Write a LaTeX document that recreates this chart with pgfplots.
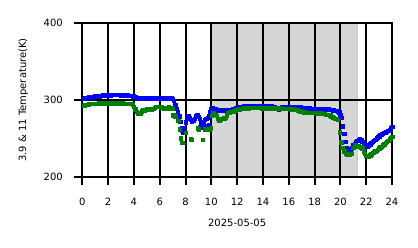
\documentclass[border=0pt]{standalone}
\usepackage{pgfplots}
\pgfplotsset{compat=1.18}
\usepackage{fontspec}
\setmainfont{DejaVu Sans}
\definecolor{myblue}{RGB}{0,0,255}
\definecolor{mygreen}{RGB}{0,128,0}
\pgfplotstableread[row sep=\\]{
x y\\
0.1 302\\ 0.2 302.5\\ 0.3 303\\ 0.4 302.8\\ 0.5 303.5\\ 0.6 303.8\\ 0.7 304\\ 0.8 304.2\\ 0.9 304.5\\ 1.0 304.8\\
1.1 305\\ 1.2 305.2\\ 1.3 305\\ 1.4 305.6\\ 1.5 305.8\\ 1.6 306\\ 1.7 305.7\\ 1.8 306.2\\ 1.9 306.4\\ 2.0 306.5\\
2.1 306.8\\ 2.2 306.4\\ 2.3 307\\ 2.4 307.2\\ 2.5 306.8\\ 2.6 307\\ 2.7 306.6\\ 2.8 307.2\\ 2.9 306.8\\ 3.0 306.5\\
3.1 306.9\\ 3.2 306.3\\ 3.3 306.6\\ 3.4 306\\ 3.5 306.4\\ 3.6 305.8\\ 3.7 305.5\\ 3.8 305.8\\ 3.9 305.2\\ 4.0 304.8\\
4.1 304\\ 4.2 303\\ 4.3 302.2\\ 4.4 301.5\\ 4.5 301.8\\ 4.6 302.5\\ 4.7 302\\ 4.8 302.6\\ 4.9 303\\ 5.0 302.5\\
5.1 303.2\\ 5.2 302.8\\ 5.3 303\\ 5.4 302.6\\ 5.5 303.2\\ 5.6 302.9\\ 5.7 302.5\\ 5.8 303\\ 5.9 302.4\\ 6.0 302.8\\
6.1 302.2\\ 6.2 302.6\\ 6.3 302\\ 6.4 302.5\\ 6.5 302.2\\ 6.6 302.8\\ 6.7 302.4\\ 6.8 301.8\\ 6.9 302.2\\ 7.0 301.5\\
7.1 299\\ 7.2 294\\ 7.3 289\\ 7.4 284\\ 7.5 279\\ 7.6 272\\ 7.7 264\\ 7.75 260\\ 7.8 257\\ 7.9 263\\ 8.0 271\\
8.1 276\\ 8.2 279\\ 8.3 277\\ 8.4 274\\ 8.5 272\\ 8.6 273\\ 8.7 276\\ 8.8 279\\ 8.9 280\\ 9.0 278\\
9.1 276\\ 9.2 271\\ 9.3 268\\ 9.4 270\\ 9.5 274\\ 9.6 276\\ 9.7 277\\ 9.8 279\\ 9.9 284\\ 10.0 288\\
9.1 265\\ 9.2 264\\ 9.3 264\\ 9.45 264.5\\ 9.55 265\\ 9.7 266\\ 9.8 268\\
10.1 289.5\\ 10.2 289\\ 10.3 288\\ 10.4 287\\ 10.5 286\\ 10.6 286.5\\ 10.7 287\\ 10.8 286\\ 10.9 286.5\\ 11.0 287\\
11.1 286.5\\ 11.2 287\\ 11.3 286.4\\ 11.4 287\\ 11.5 287.2\\ 11.6 287.6\\ 11.7 288\\ 11.8 289\\ 11.9 289.5\\ 12.0 290\\
12.1 290.5\\ 12.2 291\\ 12.3 291.2\\ 12.4 291.5\\ 12.5 291.8\\ 12.6 292\\ 12.7 291.6\\ 12.8 292.2\\ 12.9 292\\ 13.0 292.4\\
13.1 292\\ 13.2 292.5\\ 13.3 292.2\\ 13.4 292.6\\ 13.5 292\\ 13.6 292.3\\ 13.7 292.6\\ 13.8 292.2\\ 13.9 292.5\\ 14.0 292.2\\
14.1 291.8\\ 14.2 292.2\\ 14.3 292\\ 14.4 291.6\\ 14.5 292\\ 14.6 291.5\\ 14.7 291.8\\ 14.8 291.2\\ 14.9 290.5\\ 15.0 289.5\\
15.1 288.5\\ 15.2 287.5\\ 15.3 288.5\\ 15.4 290\\ 15.5 291\\ 15.6 291.2\\ 15.7 291.5\\ 15.8 291\\ 15.9 291.4\\ 16.0 291.2\\
16.1 291.5\\ 16.2 291\\ 16.3 291.4\\ 16.4 291.2\\ 16.5 291\\ 16.6 291.3\\ 16.7 290.8\\ 16.8 291\\ 16.9 290.5\\ 17.0 290.2\\
17.1 290\\ 17.2 289.5\\ 17.3 289.8\\ 17.4 289.2\\ 17.5 289\\ 17.6 289.4\\ 17.7 289\\ 17.8 288.6\\ 17.9 289\\ 18.0 288.4\\
18.1 288.8\\ 18.2 288.2\\ 18.3 288.6\\ 18.4 288\\ 18.5 288.4\\ 18.6 287.8\\ 18.7 288.2\\ 18.8 287.6\\ 18.9 288\\ 19.0 287.4\\
19.1 287.8\\ 19.2 287.2\\ 19.3 287\\ 19.4 286.6\\ 19.5 286.8\\ 19.6 286.2\\ 19.7 286\\ 19.8 285.5\\ 19.9 284\\ 20.0 281\\
20.1 277\\ 20.2 266\\ 20.3 256\\ 20.4 246\\ 20.5 238\\ 20.6 236\\ 20.7 235.5\\ 20.8 236\\ 20.9 237\\ 21.0 241\\
21.1 243\\ 21.2 245\\ 21.3 247\\ 21.4 248.5\\ 21.5 249\\ 21.6 247.5\\ 21.7 246\\ 21.8 244\\ 21.9 242.5\\ 22.0 241\\
22.1 240\\ 22.2 241\\ 22.3 242.5\\ 22.4 244\\ 22.5 245.5\\ 22.6 247\\ 22.7 248.5\\ 22.8 250\\ 22.9 251.5\\ 23.0 253\\
23.1 254.5\\ 23.2 255.5\\ 23.3 256\\ 23.4 257\\ 23.5 258\\ 23.6 258.8\\ 23.7 260\\ 23.8 261.5\\ 23.9 263\\ 24.0 265\\
}\bluedata
\pgfplotstableread[row sep=\\]{
x y\\
0.1 292.3\\ 0.2 293\\ 0.3 293.5\\ 0.4 294\\ 0.5 294.5\\ 0.6 294.8\\ 0.7 295\\ 0.8 295.2\\ 0.9 295.2\\ 1.0 295.4\\
1.1 295.5\\ 1.2 295.4\\ 1.3 295.6\\ 1.4 295.5\\ 1.5 295.6\\ 1.6 295.5\\ 1.7 295.6\\ 1.8 295.5\\ 1.9 295.6\\ 2.0 295.5\\
2.1 295.6\\ 2.2 295.5\\ 2.3 295.6\\ 2.4 295.5\\ 2.5 295.6\\ 2.6 295.5\\ 2.7 295.6\\ 2.8 295.5\\ 2.9 295.6\\ 3.0 295.5\\
3.1 295.6\\ 3.2 295.5\\ 3.3 295.5\\ 3.4 295.4\\ 3.5 295.5\\ 3.6 295.3\\ 3.7 295.2\\ 3.8 295\\ 3.9 294\\ 4.0 291\\
4.1 288\\ 4.2 285\\ 4.3 283\\ 4.4 282\\ 4.5 283\\ 4.6 285.5\\ 4.7 286.5\\ 4.8 286\\ 4.9 287\\ 5.0 288\\
5.1 289\\ 5.2 288\\ 5.3 287.5\\ 5.4 287\\ 5.5 288.5\\ 5.6 290\\ 5.7 291\\ 5.8 291.2\\ 5.9 291\\ 6.0 291.2\\
6.1 290.5\\ 6.2 290.2\\ 6.3 289.5\\ 6.4 289\\ 6.5 288.5\\ 6.6 289.5\\ 6.7 290.5\\ 6.8 290\\ 6.9 289.5\\ 7.0 289\\
7.05 280\\ 7.2 279\\ 7.43 273\\ 7.56 262\\ 7.64 250\\ 7.74 244.6\\ 8.03 257.7\\ 8.4 249\\ 8.5 248\\
8.93 263\\ 9.02 262\\ 9.32 248\\ 9.5 262\\ 9.83 262\\ 9.93 263\\ 10.05 279.5\\
10.1 283.7\\ 10.2 283\\ 10.3 281\\ 10.4 279.5\\ 10.5 276\\ 10.6 273.7\\ 10.7 274\\ 10.8 275.5\\ 10.9 276\\ 11.0 276.5\\
11.1 277\\ 11.2 280\\ 11.3 283.7\\ 11.4 284\\ 11.5 284.5\\ 11.6 285\\ 11.7 285.6\\ 11.8 286\\ 11.9 286.7\\ 12.0 287.2\\
12.1 287.8\\ 12.2 288\\ 12.3 288.5\\ 12.4 289\\ 12.5 289.2\\ 12.6 289.5\\ 12.7 289.5\\ 12.8 289.6\\ 12.9 289.5\\ 13.0 289.8\\
13.1 289.6\\ 13.2 289.8\\ 13.3 289.6\\ 13.4 289.8\\ 13.5 289.6\\ 13.6 289.8\\ 13.7 289.6\\ 13.8 289.7\\ 13.9 289.5\\ 14.0 289.7\\
14.1 289.5\\ 14.2 289.6\\ 14.3 289.4\\ 14.4 289.6\\ 14.5 289.4\\ 14.6 289.5\\ 14.7 289.3\\ 14.8 289.5\\ 14.9 289.3\\ 15.0 289.4\\
15.1 289.2\\ 15.2 289\\ 15.3 289.2\\ 15.4 289\\ 15.5 288.8\\ 15.6 288.6\\ 15.7 288.8\\ 15.8 288.5\\ 15.9 288.6\\ 16.0 288.4\\
16.1 288.5\\ 16.2 288.2\\ 16.3 288\\ 16.4 287.8\\ 16.5 287.5\\ 16.6 287\\ 16.7 286.5\\ 16.8 286\\ 16.9 285.5\\ 17.0 285\\
17.1 284.5\\ 17.2 284\\ 17.3 283.8\\ 17.4 283.7\\ 17.5 283.7\\ 17.6 283.6\\ 17.7 283.7\\ 17.8 283.5\\ 17.9 283.6\\ 18.0 283.5\\
18.1 283.2\\ 18.2 283\\ 18.3 282.8\\ 18.4 282.9\\ 18.5 282.8\\ 18.6 282.5\\ 18.7 282.2\\ 18.8 281.8\\ 18.9 281.2\\ 19.0 281\\
19.1 280.5\\ 19.2 280\\ 19.3 278.5\\ 19.4 277.5\\ 19.5 277\\ 19.6 276\\ 19.7 275.5\\ 19.8 275\\ 19.95 258\\ 20.05 245\\
20.15 238\\ 20.3 233\\ 20.4 230\\ 20.5 229.5\\ 20.6 229.5\\ 20.7 229.5\\ 20.8 230\\ 20.9 230\\ 21.0 238\\
21.1 241\\ 21.2 240.5\\ 21.3 240\\ 21.4 240\\ 21.5 239.5\\ 21.6 238.5\\ 21.7 237\\ 21.8 233.5\\ 21.9 230\\ 22.0 227.5\\
22.1 226\\ 22.2 226.5\\ 22.3 228\\ 22.4 229.5\\ 22.5 231\\ 22.6 232\\ 22.7 233\\ 22.8 234\\ 22.9 235.5\\ 23.0 237\\
23.1 238.5\\ 23.2 239.5\\ 23.3 241\\ 23.4 242.5\\ 23.5 244\\ 23.6 245.5\\ 23.7 247\\ 23.8 249\\ 23.9 250.5\\ 24.0 252\\
}\greendata
\begin{document}
\fontsize{10bp}{12bp}\selectfont
\begin{tikzpicture}
\begin{axis}[
  at={(0,0)}, anchor=south west,
  scale only axis, width=309.7bp, height=153.4bp,
  xmin=0, xmax=24, ymin=200, ymax=400,
  xtick={0,2,...,24}, ytick={200,300,400},
  grid=major, major grid style={black, line width=2bp},
  axis line style={black, line width=2bp},
  tick style={black, line width=2bp},
  major tick length=8bp, tick align=outside, tick pos=left,
  /pgf/number format/assume math mode=true,
  tick label style={font=\fontsize{10bp}{12bp}\selectfont},
  xticklabel style={yshift=-10bp},
  yticklabel style={xshift=-8bp},
  label style={font=\fontsize{10bp}{12bp}\selectfont},
  xlabel={2025-05-05},
  ylabel={3.9 \& 11 Temperature(K)},
  xlabel style={at={(axis description cs:0.5,-0.302)}, anchor=center},
  ylabel style={at={(axis description cs:-0.19,0.5)}, anchor=center},
  axis on top,
]
\addplot[draw=gray!45, line width=1.2bp, fill=gray!32] coordinates {(10,200) (10,400) (21.3,400) (21.3,200)} -- cycle;
\addplot[only marks, mark=square*, mark size=1.7bp, color=myblue] table {\bluedata};
\addplot[only marks, mark=square*, mark size=1.7bp, color=mygreen] table {\greendata};
\end{axis}
\pgfresetboundingbox
\path (-82.3bp,-71.3bp) rectangle (335.7bp,176.7bp);
\end{tikzpicture}
\end{document}
